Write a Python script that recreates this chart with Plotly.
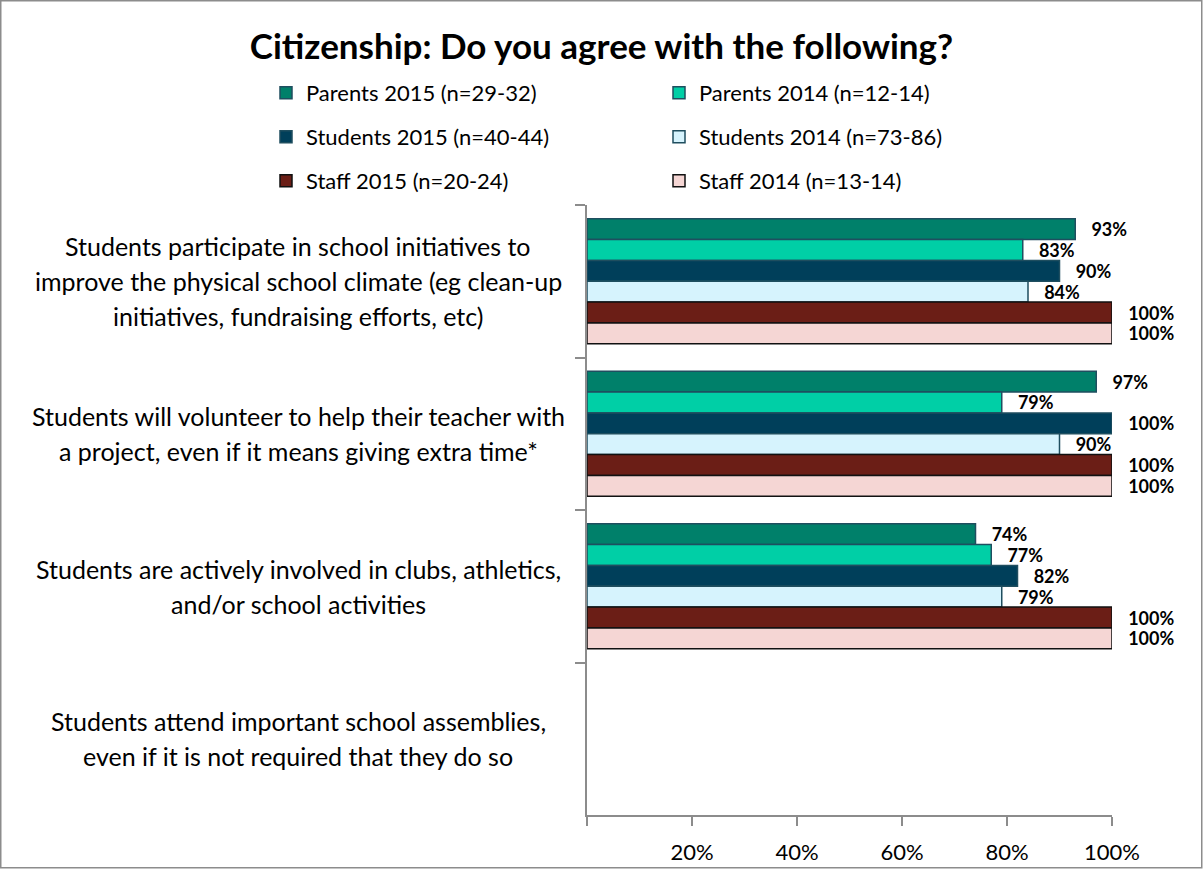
import plotly.graph_objects as go

categories = [
    "Students participate in school initiatives to<br>improve the physical school climate (eg clean-up<br>initiatives, fundraising efforts, etc)",
    "Students will volunteer to help their teacher with<br>a project, even if it means giving extra time*",
    "Students are actively involved in clubs, athletics,<br>and/or school activities",
    "Students attend important school assemblies,<br>even if it is not required that they do so",
]
series_names = [
    "Parents 2015 (n=29-32)",
    "Parents 2014 (n=12-14)",
    "Students 2015 (n=40-44)",
    "Students 2014 (n=73-86)",
    "Staff 2015 (n=20-24)",
    "Staff 2014 (n=13-14)",
]
parents_2015 = [93, 97, 74, None]
parents_2014 = [83, 79, 77, None]
students_2015 = [90, 100, 82, None]
students_2014 = [84, 90, 79, None]
staff_2015 = [100, 100, 100, None]
staff_2014 = [100, 100, 100, None]
series_values = [parents_2015, parents_2014, students_2015, students_2014, staff_2015, staff_2014]
x_tick_vals = [0, 20, 40, 60, 80, 100]
x_tick_text = ["", "20%", "40%", "60%", "80%", "100%"]

fill_colors = ["#00806A", "#00CFA6", "#003F5A", "#D6F3FD", "#6B1E16", "#F5D6D4"]
line_colors = ["#1F4E5F", "#1F4E5F", "#1F4E5F", "#1F4E5F", "#111111", "#111111"]
legend_ids = ["legend", "legend", "legend2", "legend2", "legend3", "legend3"]

FW, FH = 1203, 869
L, R, T, B = 587, 1112, 205, 815
W, H = R - L, B - T


def px_x(p):
    return (p - L) / W


def px_y(p):
    return (B - p) / H


FONT = "Lato"
PAD = "\u00a0\u00a0\u00a0"

fig = go.Figure()
for name, vals, fc, lc, lg in zip(series_names, series_values, fill_colors, line_colors, legend_ids):
    fig.add_trace(go.Bar(
        name=name,
        y=categories,
        x=vals,
        orientation="h",
        marker=dict(color=fc, line=dict(color=lc, width=1.5)),
        text=[PAD + f"{v}%" if v is not None else "" for v in vals],
        textposition="outside",
        textfont=dict(family=FONT, size=18, color="#000000", weight="bold"),
        constraintext="none",
        cliponaxis=False,
        legend=lg,
        hoverinfo="x+name",
    ))

# category labels: centered multi-line text, one annotation per line
line_gap = 35
for cat in categories:
    lines = cat.split("<br>")
    n = len(lines)
    for i, ln in enumerate(lines):
        fig.add_annotation(
            x=px_x(298), xref="paper", xanchor="center",
            y=cat, yref="y", yanchor="middle",
            yshift=((n - 1) / 2 - i) * line_gap,
            text=ln, showarrow=False, align="center",
            font=dict(family=FONT, size=25, color="#000000"),
        )

legend_common = dict(
    orientation="h", entrywidth=348, entrywidthmode="pixels",
    xanchor="left", yanchor="middle", bgcolor="rgba(0,0,0,0)",
    font=dict(family=FONT, size=22, color="#000000"), itemclick=False,
)
fig.update_layout(
    legend=dict(x=px_x(266), y=px_y(93), **legend_common),
    legend2=dict(x=px_x(266), y=px_y(137), **legend_common),
    legend3=dict(x=px_x(266), y=px_y(181), **legend_common),
)

fig.update_layout(
    width=FW, height=FH,
    margin=dict(l=L, r=FW - R, t=T, b=FH - B, pad=0, autoexpand=False),
    paper_bgcolor="#FFFFFF", plot_bgcolor="#FFFFFF",
    barmode="group", bargap=0.18, bargroupgap=0,
    title=dict(text="<b>Citizenship: Do you agree with the following?</b>",
               x=0.5, xanchor="center", y=1 - 47 / FH, yanchor="middle",
               font=dict(family=FONT, size=35, color="#000000")),
    font=dict(family=FONT, color="#000000"),
    showlegend=True,
)
fig.update_xaxes(
    range=[0, 100], tickvals=x_tick_vals, ticktext=x_tick_text,
    showgrid=False, zeroline=False, showline=True, linecolor="#8C8C8C", linewidth=1.5,
    ticks="outside", ticklen=9, tickcolor="#8C8C8C", tickwidth=1.5,
    tickfont=dict(family=FONT, size=22, color="#000000"), ticklabelstandoff=8,
    fixedrange=True, automargin=False,
)
fig.update_yaxes(
    type="category", categoryorder="array", categoryarray=categories,
    range=[3.5, -0.5], showticklabels=False, tickson="boundaries",
    showgrid=False, zeroline=False, showline=True, linecolor="#8C8C8C", linewidth=1.5,
    ticks="outside", ticklen=10, tickcolor="#8C8C8C", tickwidth=1.5,
    fixedrange=True, automargin=False,
)
# outer chart border
fig.add_shape(type="rect", xref="paper", yref="paper",
              x0=px_x(0.75), x1=px_x(FW - 1.25), y0=px_y(FH - 1.25), y1=px_y(0.75),
              line=dict(color="#8C8C8C", width=1.5), fillcolor="rgba(0,0,0,0)", layer="below")

fig.write_html(
    "out.html",
    config={"displayModeBar": False, "responsive": False},
    post_script=(
        "document.documentElement.style.margin='0px';"
        "document.documentElement.style.padding='0px';"
        "document.documentElement.style.overflow='hidden';"
        "document.body.style.margin='0px';"
        "document.body.style.padding='0px';"
        "document.body.style.overflow='hidden';"
    ),
)
